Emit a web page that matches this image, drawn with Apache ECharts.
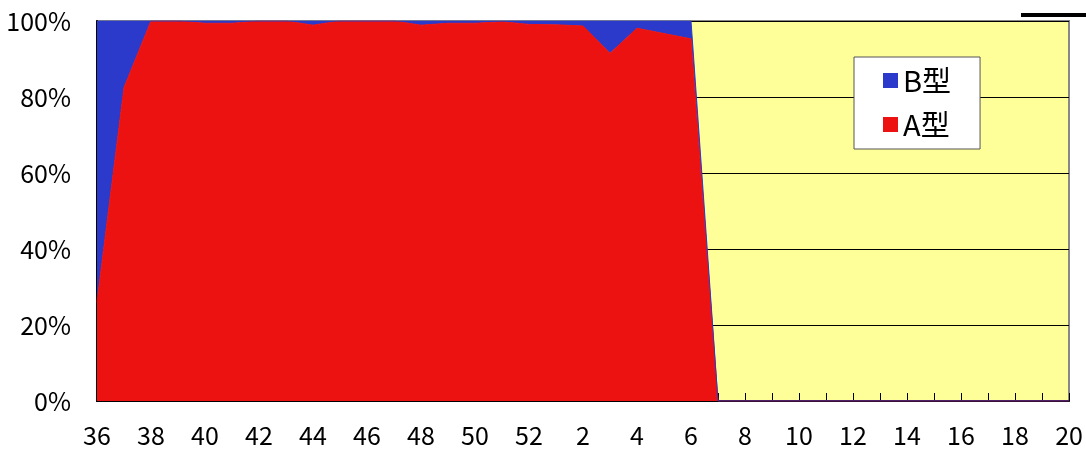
<!DOCTYPE html>
<html>
<head>
<meta charset="utf-8">
<script src="https://cdn.jsdelivr.net/npm/echarts@6/dist/echarts.min.js"></script>
<style>
  html, body { margin: 0; padding: 0; background: #fff; }
  #main { width: 1086px; height: 450px; }
</style>
</head>
<body>
<div id="main"></div>
<script>
var weeks = ['36', '37', '38', '39', '40', '41', '42', '43', '44', '45', '46', '47', '48', '49', '50', '51', '52',
  '1', '2', '3', '4', '5', '6', '7', '8', '9', '10', '11', '12', '13', '14', '15', '16', '17', '18', '19', '20'];

// A型 share (%) per week
var typeA = [26, 82.5, 100, 100, 99.4, 99.4, 100, 100, 98.9, 100, 100, 100, 98.9, 99.4, 99.4, 99.8, 99.1,
  99, 98.7, 91.5, 98.1, 96.7, 95.3, 0, 0, 0, 0, 0, 0, 0, 0, 0, 0, 0, 0, 0, 0];

// B型 share (%) per week
var typeB = [74, 17.5, 0, 0, 0.6, 0.6, 0, 0, 1.1, 0, 0, 0, 1.1, 0.6, 0.6, 0.2, 0.9,
  1, 1.3, 8.5, 1.9, 3.3, 4.7, 0, 0, 0, 0, 0, 0, 0, 0, 0, 0, 0, 0, 0, 0];

var yTicks = [0, 20, 40, 60, 80, 100];

var red = '#ED1212';
var blue = '#2B3ACB';
var font = '"Noto Sans CJK JP", "Noto Sans", sans-serif';

var chart = echarts.init(document.getElementById('main'));

var option = {
  animation: false,
  backgroundColor: '#fff',
  textStyle: { fontFamily: font },
  grid: {
    left: 97,
    right: 17,
    top: 21,
    bottom: 49,
    show: true,
    backgroundColor: '#FFFF99',
    borderColor: '#888',
    borderWidth: 2
  },
  legend: {
    orient: 'vertical',
    left: 854,
    top: 57,
    data: ['B型', 'A型'],
    icon: 'rect',
    itemWidth: 15,
    itemHeight: 15,
    itemGap: 15,
    padding: [9, 29, 10, 29],
    backgroundColor: '#fff',
    borderColor: '#555',
    borderWidth: 1,
    textStyle: { fontSize: 29, color: '#000', fontFamily: font }
  },
  xAxis: {
    type: 'category',
    data: weeks,
    boundaryGap: false,
    axisLine: { lineStyle: { color: '#000', width: 2 } },
    axisTick: { inside: true, length: 8, interval: 0, lineStyle: { color: '#000' } },
    axisLabel: { interval: 1, color: '#000', fontSize: 25, margin: 22, fontFamily: font },
    splitLine: { show: false }
  },
  yAxis: {
    type: 'value',
    min: yTicks[0],
    max: yTicks[yTicks.length - 1],
    interval: 20,
    axisLine: { show: true, lineStyle: { color: '#000', width: 2 } },
    axisTick: { show: true, inside: true, length: 9, lineStyle: { color: '#000' } },
    axisLabel: { formatter: '{value}%', color: '#000', fontSize: 25, margin: 26, fontFamily: font },
    splitLine: { show: true, lineStyle: { color: '#000', width: 1 } }
  },
  series: [
    {
      name: 'A型',
      type: 'line',
      stack: 'share',
      data: typeA,
      showSymbol: false,
      symbol: 'none',
      itemStyle: { color: red },
      lineStyle: { color: red, width: 1 },
      areaStyle: { color: red, opacity: 1 }
    },
    {
      name: 'B型',
      type: 'line',
      stack: 'share',
      data: typeB,
      showSymbol: false,
      symbol: 'none',
      itemStyle: { color: blue },
      lineStyle: { color: blue, width: 1 },
      areaStyle: { color: blue, opacity: 1 }
    }
  ],
  graphic: [
    {
      type: 'rect',
      left: 1021,
      top: 13,
      shape: { width: 65, height: 4 },
      style: { fill: '#000' }
    }
  ]
};

chart.setOption(option);
</script>
</body>
</html>
